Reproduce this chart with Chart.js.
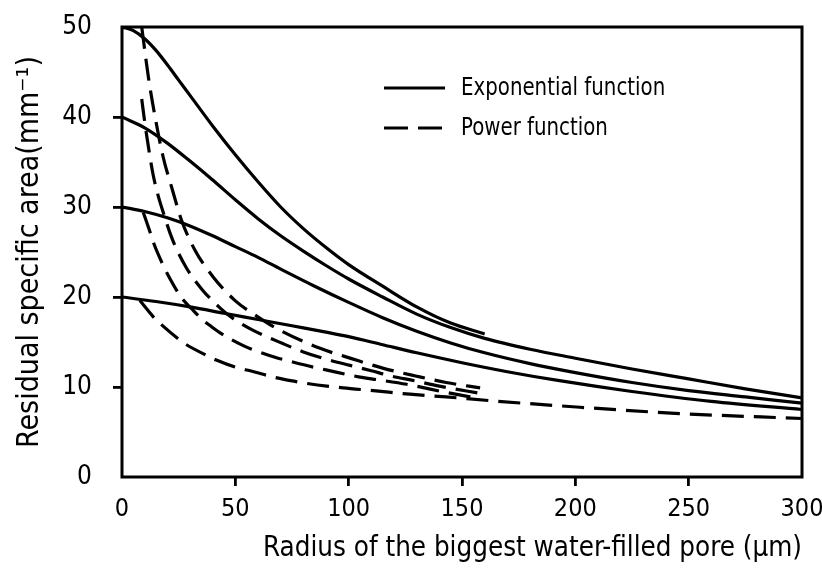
<!DOCTYPE html>
<html>
<head>
<meta charset="utf-8">
<script src="https://cdn.jsdelivr.net/npm/chart.js@4.4.1/dist/chart.umd.min.js"></script>
<style>
  html, body { margin: 0; padding: 0; background: #fff; }
</style>
</head>
<body>
<canvas id="chart" width="822" height="570"></canvas>
<script>
// [radius (µm), residual specific area (mm^-1)]
const expo50 = [[0, 50], [5, 49.6], [10, 48.7], [15, 47.4], [20, 45.8], [25, 44.1], [30, 42.4], [40, 39], [50, 35.8], [60, 32.8], [70, 30], [80, 27.6], [90, 25.5], [100, 23.6], [115, 21.2], [130, 18.9], [145, 17.1], [160, 15.9]]
const expo40 = [[0, 40], [10, 38.8], [20, 37.1], [30, 35.1], [40, 33], [50, 30.8], [60, 28.7], [70, 26.8], [80, 25.1], [90, 23.5], [100, 22], [115, 20], [130, 18.1], [145, 16.6], [160, 15.4], [180, 14.2], [200, 13.2], [225, 12], [250, 10.9], [275, 9.8], [300, 8.8]]
const expo30 = [[0, 30], [10, 29.5], [20, 28.8], [30, 27.9], [40, 26.8], [50, 25.6], [60, 24.4], [70, 23.1], [85, 21.2], [100, 19.4], [115, 17.7], [130, 16.2], [145, 14.9], [160, 13.8], [180, 12.6], [200, 11.6], [225, 10.5], [250, 9.6], [275, 8.9], [300, 8.2]]
const expo20 = [[0, 20], [15, 19.5], [30, 18.9], [45, 18.2], [60, 17.5], [75, 16.8], [90, 16.1], [100, 15.6], [115, 14.7], [130, 13.8], [150, 12.7], [170, 11.7], [193, 10.7], [225, 9.5], [260, 8.4], [300, 7.5]]

const power50 = [[8.7, 50], [11.6, 44.5], [14.6, 40], [18.2, 35.5], [21.9, 32.2], [26.3, 28.5], [32.2, 25.2], [40.3, 22.2], [49.9, 19.6], [58.7, 18], [69.7, 16.3], [87.4, 14.3], [102, 13.1], [115, 12.1], [130, 11.2], [143, 10.5], [158, 9.9]]
const power40 = [[8.7, 42], [10.1, 39.3], [12.4, 35.5], [13.8, 33.5], [16, 31.2], [18.2, 29.4], [21.2, 27.1], [23.4, 25.7], [28.5, 23.2], [35.1, 20.9], [43.2, 18.8], [49.1, 17.6], [57.9, 16.3], [71.2, 14.8], [80, 13.9], [90, 13.1], [100.6, 12.4], [110, 11.8], [119, 11.2], [129, 10.7], [140, 10.1], [158, 9.3]]
const power30 = [[9.4, 29.4], [12.4, 27.2], [13.8, 26.1], [18.2, 23.5], [20.4, 22.4], [26.3, 19.9], [30.7, 18.7], [35, 17.6], [39.5, 16.7], [44, 15.9], [53.5, 14.6], [57.2, 14.2], [67.5, 13.3], [71.9, 13], [84.4, 12.2], [90, 11.9], [105, 11.1], [113, 10.8], [125.6, 10.3], [143, 9.4], [158, 8.7]]
const power20 = [[7.9, 19.6], [13.8, 17.8], [17.5, 16.9], [25.6, 15.2], [27.8, 14.8], [37.4, 13.5], [41.6, 13], [51.3, 12.1], [56.5, 11.8], [66.8, 11.1], [70.5, 10.9], [81.5, 10.4], [97.6, 9.9], [110.9, 9.6], [127, 9.2], [143, 8.9], [161.6, 8.5], [202, 7.75], [246, 7.05], [300, 6.5]]

const xTicks = [0, 50, 100, 150, 200, 250, 300]
const yTicks = [0, 10, 20, 30, 40, 50]
const legendLabels = ['Exponential function', 'Power function']

const FONT = "'DejaVu Sans Condensed', 'DejaVu Sans', sans-serif"
const DASH = [22, 10]
const INK = '#000'

const curve = (points, dashed) => ({
    data: points.map(([x, y]) => ({ x, y })),
    borderColor: INK,
    borderWidth: 3.2,
    borderDash: dashed ? DASH : [],
    pointRadius: 0,
    showLine: true,
    fill: false,
    cubicInterpolationMode: 'monotone'
})

// hide tick marks that would sit on the frame corners
const tickColor = (ends) => (ctx) => {
    const v = ctx.tick ? ctx.tick.value : null
    return ends.includes(v) ? 'rgba(0,0,0,0)' : INK
}

// keep the outer tick labels from shrinking the plot area
const noLabelPadding = (s) => {
    s.paddingTop = 0
    s.paddingBottom = 0
    s.paddingLeft = 0
    s.paddingRight = 0
}

const framePlugin = {
    id: 'frame',
    afterDatasetsDraw(chart) {
        const { ctx, chartArea: a } = chart
        ctx.save()
        ctx.strokeStyle = INK
        ctx.lineWidth = 3
        ctx.strokeRect(a.left, a.top, a.right - a.left, a.bottom - a.top)
        ctx.restore()
    }
}

const legendPlugin = {
    id: 'lineLegend',
    afterDraw(chart) {
        const { ctx } = chart
        const rows = [{ y: 88, dash: [] }, { y: 128, dash: [24, 10] }]
        ctx.save()
        ctx.strokeStyle = INK
        ctx.fillStyle = INK
        ctx.lineWidth = 3
        ctx.textBaseline = 'middle'
        rows.forEach((row, i) => {
            ctx.setLineDash(row.dash)
            ctx.beginPath()
            ctx.moveTo(384, row.y)
            ctx.lineTo(445, row.y)
            ctx.stroke()
            ctx.save()
            ctx.translate(461, row.y)
            ctx.scale(0.88, 1)
            ctx.font = `25px ${FONT}`
            ctx.fillText(legendLabels[i], 0, 0)
            ctx.restore()
        })
        ctx.restore()
    }
}

new Chart(document.getElementById('chart'), {
    type: 'scatter',
    data: {
        datasets: [
            curve(expo50, false), curve(expo40, false), curve(expo30, false), curve(expo20, false),
            curve(power50, true), curve(power40, true), curve(power30, true), curve(power20, true)
        ]
    },
    options: {
        responsive: false,
        animation: false,
        layout: { padding: { top: 27, right: 20, bottom: 4, left: 0 } },
        plugins: { legend: { display: false }, tooltip: { enabled: false } },
        scales: {
            x: {
                type: 'linear',
                min: 0,
                max: 300,
                afterBuildTicks: (s) => { s.ticks = xTicks.map(value => ({ value })) },
                afterFit: (s) => { s.height = 89; noLabelPadding(s) },
                border: { display: false },
                grid: { drawOnChartArea: false, drawTicks: true, tickLength: 9, lineWidth: 2.8, color: tickColor([0, 300]) },
                ticks: { color: INK, padding: 8, maxRotation: 0, font: { family: FONT, size: 25 } },
                title: {
                    display: true,
                    text: 'Radius of the biggest water-filled pore (µm)',
                    align: 'end',
                    color: INK,
                    padding: { top: 0, bottom: 1 },
                    font: { family: FONT, size: 27.5 }
                }
            },
            y: {
                type: 'linear',
                min: 0,
                max: 50,
                afterBuildTicks: (s) => { s.ticks = yTicks.map(value => ({ value })) },
                afterFit: (s) => { s.width = 122; noLabelPadding(s) },
                border: { display: false },
                grid: { drawOnChartArea: false, drawTicks: true, tickLength: 9, lineWidth: 2.8, color: tickColor([0, 50]) },
                ticks: { color: INK, padding: 21, font: { family: FONT, size: 26 } },
                title: {
                    display: true,
                    text: 'Residual specific area(mm⁻¹)',
                    color: INK,
                    padding: { top: 12, bottom: 0 },
                    font: { family: FONT, size: 30 }
                }
            }
        }
    },
    plugins: [framePlugin, legendPlugin]
})
</script>
</body>
</html>
